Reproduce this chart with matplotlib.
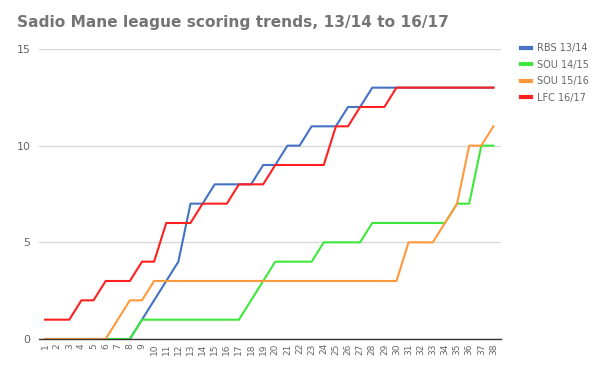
import matplotlib
matplotlib.use("Agg")
import matplotlib.pyplot as plt

matches = list(range(1, 39))
rbs_1314 = [0,0,0,0,0,0,0,0,1,2,3,4,7,7,8,8,8,8,9,9,10,10,11,11,11,12,12,13,13,13,13,13,13,13,13,13,13,13]
sou_1415 = [0,0,0,0,0,0,0,0,1,1,1,1,1,1,1,1,1,2,3,4,4,4,4,5,5,5,5,6,6,6,6,6,6,6,7,7,10,10]
sou_1516 = [0,0,0,0,0,0,1,2,2,3,3,3,3,3,3,3,3,3,3,3,3,3,3,3,3,3,3,3,3,3,5,5,5,6,7,10,10,11]
lfc_1617 = [1,1,1,2,2,3,3,3,4,4,6,6,6,7,7,7,8,8,8,9,9,9,9,9,11,11,12,12,12,13,13,13,13,13,13,13,13,13]

series = [
    ("RBS 13/14", rbs_1314, "#4472c4"),
    ("SOU 14/15", sou_1415, "#3ce83c"),
    ("SOU 15/16", sou_1516, "#ff9a3c"),
    ("LFC 16/17", lfc_1617, "#ff2020"),
]
yticks = [0, 5, 10, 15]
title = "Sadio Mane league scoring trends, 13/14 to 16/17"

fig = plt.figure(figsize=(6, 3.7), dpi=100)
ax = fig.add_axes([0.065, 0.0838, 0.7695, 0.7838])

for name, vals, col in series:
    ax.plot(matches, vals, color=col, lw=1.5, label=name)

ax.set_xlim(0.5, 38.6)
ax.set_ylim(0, 15)
ax.set_yticks(yticks)
ax.set_xticks(matches)
ax.set_xticklabels([str(m) for m in matches], rotation=90, fontsize=6.5, color="#666666")
ax.tick_params(axis="y", labelsize=8, colors="#666666", length=0, pad=6)
ax.tick_params(axis="x", length=0, pad=3)
ax.yaxis.grid(True, color="#d9d9d9", lw=1)
ax.set_axisbelow(True)
for s in ["top", "right", "left"]:
    ax.spines[s].set_visible(False)
ax.spines["bottom"].set_color("#333333")
ax.spines["bottom"].set_linewidth(1)

leg = fig.legend(loc="upper left", bbox_to_anchor=(0.857, 0.901), frameon=False,
                 fontsize=7, handlelength=1.0, handletextpad=0.6, labelspacing=0.66,
                 borderpad=0.2)
for t in leg.get_texts():
    t.set_color("#666666")
for h in leg.legend_handles:
    h.set_linewidth(3)

fig.text(0.029, 0.938, title, fontsize=11.05, fontweight="bold", color="#757575",
         ha="left", va="center")

fig.savefig("out.png", dpi=100)
